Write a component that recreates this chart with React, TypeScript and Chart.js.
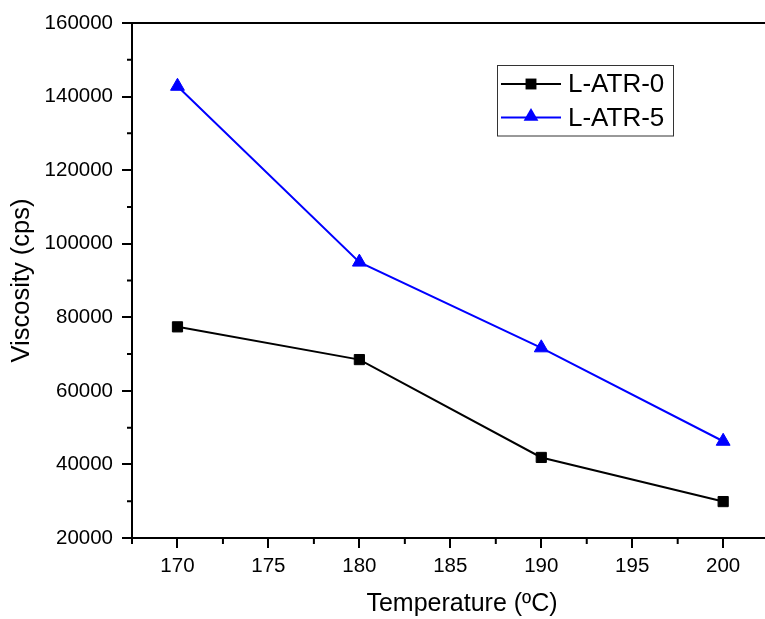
import React, { useEffect, useRef } from 'react';
import { Chart, registerables } from 'chart.js';

Chart.register(...registerables);

const temperatures = [170, 180, 190, 200];
const seriesLabels = ['L-ATR-0', 'L-ATR-5'];
const latr0Values = [77400, 68500, 41900, 29900];
const latr5Values = [142800, 95000, 71700, 46300];
const seriesColors = ['#000000', '#0000ff'];
const xTicks = [170, 175, 180, 185, 190, 195, 200];
const xMinorTicks = [167.5, 172.5, 177.5, 182.5, 187.5, 192.5, 197.5];
const yTicks = [20000, 40000, 60000, 80000, 100000, 120000, 140000, 160000];
const yMinorTicks = [30000, 50000, 70000, 90000, 110000, 130000, 150000];
const xTitle = 'Temperature (ºC)';
const yTitle = 'Viscosity (cps)';

const FONT = '"Liberation Sans", Arial, sans-serif';

function drawMarker(ctx: CanvasRenderingContext2D, style: string, x: number, y: number, r: number, color: string) {
  ctx.fillStyle = color;
  ctx.beginPath();
  if (style === 'rect') {
    const s = Math.SQRT1_2 * r;
    ctx.rect(x - s, y - s, 2 * s, 2 * s);
  } else {
    const t = (2 * Math.PI) / 3;
    let a = 0;
    ctx.moveTo(x + Math.sin(a) * r, y - Math.cos(a) * r);
    a += t;
    ctx.lineTo(x + Math.sin(a) * r, y - Math.cos(a) * r);
    a += t;
    ctx.lineTo(x + Math.sin(a) * r, y - Math.cos(a) * r);
    ctx.closePath();
  }
  ctx.fill();
}

const decorPlugin = {
  id: 'decor',
  afterDraw(chart: any) {
    const { ctx, chartArea: ca, scales } = chart;
    const xs = scales.x;
    const ys = scales.y;
    ctx.save();
    ctx.strokeStyle = '#000';
    ctx.lineWidth = 2;
    // top frame line
    ctx.beginPath();
    ctx.moveTo(ca.left - 1, ca.top);
    ctx.lineTo(ca.right, ca.top);
    ctx.stroke();
    // minor ticks
    ctx.beginPath();
    yMinorTicks.forEach((v) => {
      const py = ys.getPixelForValue(v);
      ctx.moveTo(ca.left, py);
      ctx.lineTo(ca.left - 5, py);
    });
    xMinorTicks.forEach((v) => {
      const px = xs.getPixelForValue(v);
      if (px < ca.left - 1 || px > ca.right) return;
      ctx.moveTo(px, ca.bottom);
      ctx.lineTo(px, ca.bottom + 6);
    });
    ctx.stroke();

    // x axis title
    ctx.fillStyle = '#000';
    ctx.font = `25px ${FONT}`;
    ctx.textAlign = 'center';
    ctx.textBaseline = 'alphabetic';
    ctx.fillText(xTitle, 462, 611);

    // legend
    const bx = 497.5, by = 65.5, bw = 176, bh = 70.5;
    ctx.lineWidth = 1;
    ctx.strokeStyle = '#333';
    ctx.fillStyle = '#fff';
    ctx.fillRect(bx, by, bw, bh);
    ctx.strokeRect(bx, by, bw, bh);
    const rows = [84, 117.5];
    chart.data.datasets.forEach((ds: any, i: number) => {
      const cy = rows[i];
      ctx.strokeStyle = ds.borderColor;
      ctx.lineWidth = 2;
      ctx.beginPath();
      ctx.moveTo(501, cy);
      ctx.lineTo(561, cy);
      ctx.stroke();
      drawMarker(ctx, ds.pointStyle, 531, ds.pointStyle === 'rect' ? cy : cy - 1, ds.pointRadius + 0.5, ds.borderColor);
      ctx.fillStyle = '#000';
      ctx.font = `26px ${FONT}`;
      ctx.textAlign = 'left';
      ctx.textBaseline = 'middle';
      ctx.fillText(ds.label, 568, cy + 1);
    });
    ctx.restore();
  },
};

export default function App() {
  const canvasRef = useRef<HTMLCanvasElement | null>(null);

  useEffect(() => {
    document.body.style.margin = '0';
    document.body.style.background = '#ffffff';
    const canvas = canvasRef.current;
    if (!canvas) return;
    const chart = new Chart(canvas, {
      type: 'line',
      data: {
        datasets: [
          {
            label: seriesLabels[0],
            data: temperatures.map((t, i) => ({ x: t, y: latr0Values[i] })),
            borderColor: seriesColors[0],
            backgroundColor: seriesColors[0],
            borderWidth: 2,
            pointStyle: 'rect',
            pointRadius: 7.2,
            pointBorderWidth: 1,
            pointBackgroundColor: seriesColors[0],
            pointBorderColor: seriesColors[0],
            tension: 0,
          },
          {
            label: seriesLabels[1],
            data: temperatures.map((t, i) => ({ x: t, y: latr5Values[i] })),
            borderColor: seriesColors[1],
            backgroundColor: seriesColors[1],
            borderWidth: 2,
            pointStyle: 'triangle',
            pointRadius: 8,
            pointBorderWidth: 1,
            pointBackgroundColor: seriesColors[1],
            pointBorderColor: seriesColors[1],
            tension: 0,
          },
        ],
      },
      options: {
        animation: false,
        responsive: true,
        maintainAspectRatio: false,
        layout: { autoPadding: false, padding: { top: 23, left: 0, right: 0, bottom: 0 } },
        plugins: {
          legend: { display: false },
          tooltip: { enabled: false },
        },
        scales: {
          x: {
            type: 'linear',
            min: 167.5,
            max: 202.3,
            afterBuildTicks: (scale: any) => {
              scale.ticks = xTicks.map((v) => ({ value: v }));
            },
            afterFit: (scale: any) => {
              scale.height = 81;
            },
            ticks: {
              color: '#000',
              font: { family: FONT, size: 20.5 },
              padding: 6,
              maxRotation: 0,
              autoSkip: false,
              callback: (v: any) => String(v),
            },
            grid: {
              drawOnChartArea: false,
              drawTicks: true,
              tickLength: 10,
              lineWidth: 2,
              color: '#000',
            },
            border: { display: true, color: '#000', width: 2 },
          },
          y: {
            type: 'linear',
            min: 20000,
            max: 160000,
            afterBuildTicks: (scale: any) => {
              scale.ticks = yTicks.map((v) => ({ value: v }));
            },
            afterFit: (scale: any) => {
              scale.width = 132;
            },
            ticks: {
              color: '#000',
              font: { family: FONT, size: 20.5 },
              padding: 9,
              autoSkip: false,
              callback: (v: any) => String(v),
            },
            grid: {
              drawOnChartArea: false,
              drawTicks: true,
              tickLength: 10,
              lineWidth: 2,
              color: '#000',
            },
            border: { display: true, color: '#000', width: 2 },
            title: {
              display: true,
              text: yTitle,
              color: '#000',
              font: { family: FONT, size: 25.5 },
              padding: { top: 7, bottom: 0 },
            },
          },
        },
      },
      plugins: [decorPlugin],
    });
    return () => chart.destroy();
  }, []);

  return (
    <div style={{ position: 'relative', width: 765, height: 619, background: '#fff' }}>
      <canvas ref={canvasRef} />
    </div>
  );
}
